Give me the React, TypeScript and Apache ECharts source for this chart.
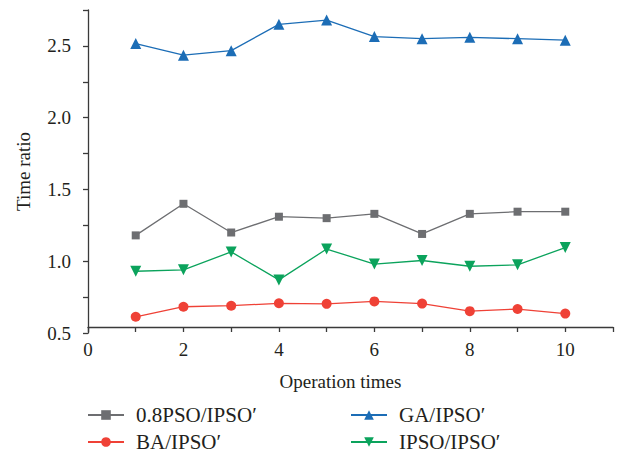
import React, { useEffect, useRef } from "react";
import * as echarts from "echarts";

const xValues = [1, 2, 3, 4, 5, 6, 7, 8, 9, 10];
const seriesNames = ["0.8PSO/IPSO\u2032", "BA/IPSO\u2032", "GA/IPSO\u2032", "IPSO/IPSO\u2032"];
const psoValues = [1.18, 1.4, 1.2, 1.31, 1.3, 1.33, 1.19, 1.33, 1.345, 1.345];
const baValues = [0.613, 0.683, 0.69, 0.707, 0.703, 0.72, 0.705, 0.652, 0.667, 0.635];
const gaValues = [2.516, 2.435, 2.467, 2.65, 2.68, 2.565, 2.55, 2.56, 2.55, 2.54];
const ipsoValues = [0.93, 0.94, 1.065, 0.87, 1.085, 0.98, 1.005, 0.965, 0.975, 1.095];
const colors = ["#6d6e71", "#ef4136", "#1c6db6", "#0ba35c"];
const symbols = ["rect", "circle", "triangle", "triangle"];
const symbolSizes = [8, 10, 11, 11];
const symbolRotates = [0, 0, 0, 180];

const FONT = "'Liberation Serif', 'DejaVu Serif', serif";

export default function App() {
  const ref = useRef<HTMLDivElement>(null);
  useEffect(() => {
    if (!ref.current) return;
    const chart = echarts.init(ref.current, null, { renderer: "svg" });
    const all = [psoValues, baValues, gaValues, ipsoValues];
    const series = all.map((vals, i) => ({
      name: seriesNames[i],
      type: "line",
      data: xValues.map((x, j) => [x, vals[j]]),
      symbol: symbols[i],
      symbolSize: symbolSizes[i],
      symbolRotate: symbolRotates[i],
      lineStyle: { color: colors[i], width: 1.3 },
      itemStyle: { color: colors[i] },
      z: 3,
    }));
    const axisLineStyle = { color: "#3a3a3a", width: 1.3 };
    const legendText = { fontFamily: FONT, fontSize: 21, color: "#231f20", lineHeight: 22, padding: [0, 0, 0, 7] };
    chart.setOption({
      animation: false,
      grid: { left: 88, right: 8, top: 10, bottom: 127, containLabel: false, outerBoundsMode: "none" },
      xAxis: {
        type: "value",
        min: 0,
        max: 11,
        interval: 1,
        offset: -6,
        name: "Operation times",
        nameLocation: "middle",
        nameGap: 45,
        nameTextStyle: { fontFamily: FONT, fontSize: 19, color: "#231f20", padding: [0, 20, 0, 0] },
        axisLine: { show: true, onZero: false, lineStyle: axisLineStyle },
        axisTick: { show: true, length: 5, lineStyle: axisLineStyle },
        axisLabel: {
          margin: 13,
          fontFamily: FONT,
          fontSize: 19,
          color: "#231f20",
          formatter: (v: number) => (v % 2 === 0 && v <= 10 ? String(v) : ""),
        },
        splitLine: { show: false },
      },
      yAxis: {
        type: "value",
        min: 0.5,
        max: 2.75,
        interval: 0.25,
        name: "Time ratio",
        nameLocation: "middle",
        nameGap: 55,
        nameTextStyle: { fontFamily: FONT, fontSize: 19, color: "#231f20" },
        axisLine: { show: true, lineStyle: axisLineStyle },
        axisTick: { show: true, length: 5, lineStyle: axisLineStyle },
        axisLabel: {
          margin: 17,
          fontFamily: FONT,
          fontSize: 19,
          color: "#231f20",
          formatter: (v: number) => {
            const d = v * 2;
            return Math.abs(d - Math.round(d)) < 1e-6 ? v.toFixed(1) : "";
          },
        },
        splitLine: { show: false },
      },
      legend: [
        {
          data: [seriesNames[0], seriesNames[1]],
          orient: "vertical",
          left: 87,
          top: 404,
          height: 80,
          width: 250,
          padding: 0,
          itemGap: 5,
          itemWidth: 36,
          itemHeight: 12,
          textStyle: legendText,
        },
        {
          data: [seriesNames[2], seriesNames[3]],
          orient: "vertical",
          left: 350,
          top: 404,
          height: 80,
          width: 250,
          padding: 0,
          itemGap: 5,
          itemWidth: 36,
          itemHeight: 12,
          textStyle: legendText,
        },
      ],
      series,
    });
    return () => chart.dispose();
  }, []);
  return <div ref={ref} style={{ width: 621, height: 460, position: "absolute", left: 0, top: 0 }} />;
}
